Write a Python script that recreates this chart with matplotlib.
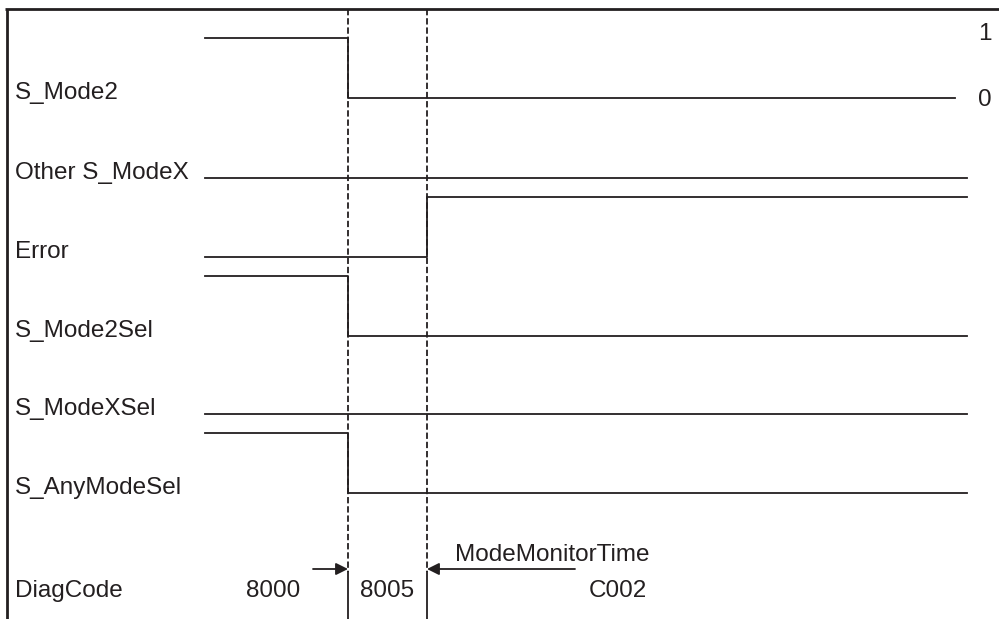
import matplotlib.pyplot as plt

# signal names and their logic levels in the three phases:
# before fault, fault until detection, after detection
signals = ["S_Mode2", "Other S_ModeX", "Error", "S_Mode2Sel", "S_ModeXSel", "S_AnyModeSel"]
levels = [
    [1, 0, 0],
    [0, 0, 0],
    [0, 0, 1],
    [1, 0, 0],
    [0, 0, 0],
    [1, 0, 0],
]
# row baselines (logic 0) in picture units, 1 is drawn 60 above
row_base = [98, 178, 257, 336, 414, 493]
high_step = 60

# time marks: start, fault, detect, end
t_start = 205
t_fault = 348
t_detect = 427
t_end = 967
t_end_first = 955

diag_codes = ["8000", "8005", "C002"]
diag_pos = [273, 387, 618]
monitor_label = "ModeMonitorTime"

plt.rcParams['font.family'] = ['Liberation Sans', 'DejaVu Sans']
fig = plt.figure(figsize=(9.99, 6.19), dpi=100)
ax = fig.add_axes([0, 0, 1, 1])
ax.set_xlim(0, 999)
ax.set_ylim(619, 0)
ax.axis('off')

col = '#231f20'
fs = 17.5

# frame: top and left only
ax.plot([5, 999], [9, 9], color=col, lw=2.0, solid_capstyle='butt')
ax.plot([6.5, 6.5], [9, 619], color=col, lw=2.0, solid_capstyle='butt')

# dashed guide lines, solid in diag code row
for t in [t_fault, t_detect]:
    ax.plot([t, t], [9, 572], color=col, lw=1.3, linestyle=(0, (3.5, 1.6)))
    ax.plot([t, t], [572, 619], color=col, lw=1.3)

# signals
for i, name in enumerate(signals):
    base = row_base[i]
    lv = levels[i]
    end = t_end_first if i == 0 else t_end
    xs = [t_start, t_fault, t_fault, t_detect, t_detect, end]
    ys = [base - lv[0] * high_step, base - lv[0] * high_step,
          base - lv[1] * high_step, base - lv[1] * high_step,
          base - lv[2] * high_step, base - lv[2] * high_step]
    ax.plot(xs, ys, color=col, lw=1.3)
    ax.text(15, base - 5, name, fontsize=fs, va='center', ha='left', color=col)

ax.text(985, row_base[0] - high_step - 4, "1", fontsize=fs, va='center', ha='center', color=col)
ax.text(985, row_base[0] + 2, "0", fontsize=fs, va='center', ha='center', color=col)

# monitor time arrows
ax.annotate("", xy=(t_fault, 569), xytext=(313, 569),
            arrowprops=dict(arrowstyle='-|>', color=col, lw=1.3, mutation_scale=18,
                            shrinkA=0, shrinkB=0))
ax.annotate("", xy=(t_detect, 569), xytext=(575, 569),
            arrowprops=dict(arrowstyle='-|>', color=col, lw=1.3, mutation_scale=18,
                            shrinkA=0, shrinkB=0))
ax.text(455, 555, monitor_label, fontsize=fs, va='center', ha='left', color=col)

# diag code row
ax.text(15, 591, "DiagCode", fontsize=fs, va='center', ha='left', color=col)
for code, x in zip(diag_codes, diag_pos):
    ax.text(x, 591, code, fontsize=fs, va='center', ha='center', color=col)

plt.savefig("out.png", dpi=100)
